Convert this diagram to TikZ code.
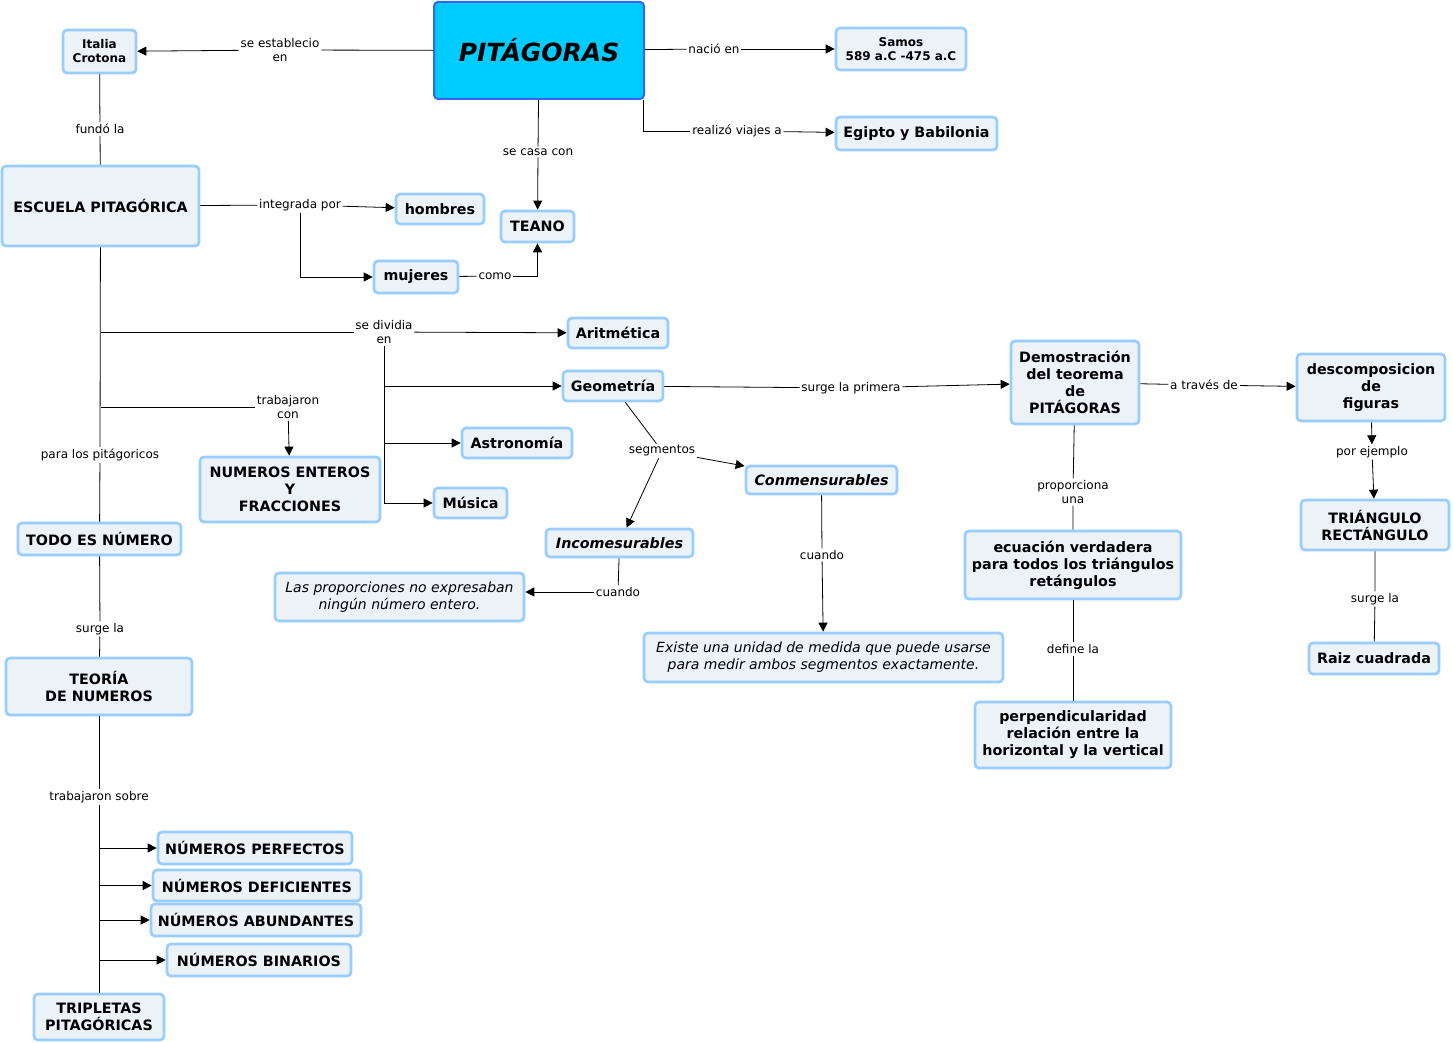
\documentclass[tikz,border=0pt]{standalone}
\usepackage{fontspec}
\setmainfont{DejaVu Sans}
\usetikzlibrary{arrows.meta,positioning}

\definecolor{cmapfill}{HTML}{EBF3F7}
\definecolor{cmapline}{HTML}{99CCFF}
\definecolor{pitfill}{HTML}{00CCFF}
\definecolor{pitline}{HTML}{3366FF}

\tikzset{
    concept/.style={draw=cmapline, fill=cmapfill, line width=2.7pt, rounded corners=4pt,
        align=center, inner sep=2pt, font=\fontsize{14.3}{17}\selectfont\bfseries},
    small/.style={font=\fontsize{12}{14}\selectfont\bfseries},
    slanted/.style={font=\fontsize{14.3}{17}\selectfont\bfseries\itshape},
    sentence/.style={font=\fontsize{14}{17}\selectfont\itshape},
    linklabel/.style={align=center, inner sep=1.5pt, font=\fontsize{12}{14}\selectfont},
    arr/.style={-{Triangle[length=9pt,width=9pt]}},
    link/.style={line width=0.8pt}
}

\begin{document}
\begin{tikzpicture}[x=1pt, y=-1pt, every path/.append style={link}]
                \useasboundingbox (0,0) rectangle (1453,1043);

                \node [concept, fill=pitfill, draw=pitline, line width=2pt, minimum width=210pt, minimum height=97pt,
                    font=\fontsize{25}{28}\selectfont\bfseries\itshape] (pit) at (539,50.5) {PITÁGORAS};
                \node [concept, small, minimum width=73pt, minimum height=43pt] (ita) at (99.5,51.5) {Italia\\Crotona};
                \node [concept, small, minimum width=130pt, minimum height=42pt] (sam) at (901,49) {Samos\\589 a.C -475 a.C};
                \node [concept, minimum width=161pt, minimum height=33pt] (egi) at (916.5,133.5) {Egipto y Babilonia};
                \node [concept, minimum width=197pt, minimum height=80pt] (esc) at (100.5,206) {ESCUELA PITAGÓRICA};
                \node [concept, minimum width=88pt, minimum height=30pt] (hom) at (440,209) {hombres};
                \node [concept, minimum width=73pt, minimum height=31pt] (tea) at (537.5,226.5) {TEANO};
                \node [concept, minimum width=84pt, minimum height=32pt] (muj) at (416,277) {mujeres};
                \node [concept, minimum width=100pt, minimum height=30pt] (ari) at (618,333) {Aritmética};
                \node [concept, minimum width=100pt, minimum height=30pt] (geo) at (613,386) {Geometría};
                \node [concept, minimum width=110pt, minimum height=30pt] (ast) at (517,443) {Astronomía};
                \node [concept, minimum width=73pt, minimum height=30pt] (mus) at (470.5,503) {Música};
                \node [concept, minimum width=180pt, minimum height=65pt] (num) at (290,489.5) {NUMEROS ENTEROS\\Y\\FRACCIONES};
                \node [concept, minimum width=163pt, minimum height=32pt] (todo) at (99.5,539) {TODO ES NÚMERO};
                \node [concept, slanted, minimum width=147pt, minimum height=28pt] (inco) at (619.5,543) {Incomesurables};
                \node [concept, slanted, minimum width=151pt, minimum height=28pt] (conm) at (821.5,480) {Conmensurables};
                \node [concept, sentence, minimum width=249pt, minimum height=48pt] (las) at (399.5,597) {Las proporciones no expresaban\\ningún número entero.};
                \node [concept, sentence, minimum width=359pt, minimum height=49pt] (exi) at (823.5,657.5) {Existe una unidad de medida que puede usarse\\para medir ambos segmentos exactamente.};
                \node [concept, minimum width=128pt, minimum height=83pt] (dem) at (1075,382.5) {Demostración\\del teorema\\de\\PITÁGORAS};
                \node [concept, minimum width=148pt, minimum height=67pt] (desc) at (1371,387.5) {descomposicion\\de\\figuras};
                \node [concept, minimum width=148pt, minimum height=50pt] (tria) at (1375,525) {TRIÁNGULO\\RECTÁNGULO};
                \node [concept, minimum width=130pt, minimum height=31pt] (raiz) at (1374,658.5) {Raiz cuadrada};
                \node [concept, minimum width=216pt, minimum height=68pt] (ecu) at (1073,565) {ecuación verdadera\\para todos los triángulos\\retángulos};
                \node [concept, minimum width=196pt, minimum height=66pt] (perp) at (1073,735) {perpendicularidad\\relación entre la\\horizontal y la vertical};
                \node [concept, minimum width=186pt, minimum height=57pt] (teo) at (99,686.5) {TEORÍA\\DE NUMEROS};
                \node [concept, minimum width=194pt, minimum height=32pt] (perf) at (255,848) {NÚMEROS PERFECTOS};
                \node [concept, minimum width=208pt, minimum height=31pt] (defi) at (257,885.5) {NÚMEROS DEFICIENTES};
                \node [concept, minimum width=210pt, minimum height=32pt] (abun) at (256,920) {NÚMEROS ABUNDANTES};
                \node [concept, minimum width=184pt, minimum height=32pt] (bina) at (259,960) {NÚMEROS BINARIOS};
                \node [concept, minimum width=130pt, minimum height=46pt] (tri) at (99,1017) {TRIPLETAS\\PITAGÓRICAS};

                \node [linklabel] (lEst) at (280,50) {se establecio\\en};
                \node [linklabel] (lNac) at (714,49) {nació en};
                \node [linklabel] (lViaj) at (737,131) {realizó viajes a};
                \node [linklabel] (lCasa) at (538,152) {se casa con};
                \node [linklabel] (lFun) at (100,129) {fundó la};
                \node [linklabel] (lInt) at (300,205) {integrada por};
                \node [linklabel] (lComo) at (495,276) {como};
                \node [linklabel] (lDiv) at (384,332) {se dividia\\en};
                \node [linklabel] (lTrab) at (288,407) {trabajaron\\con};
                \node [linklabel] (lPara) at (100,455) {para los pitágoricos};
                \node [linklabel] (lSurA) at (100,629) {surge la};
                \node [linklabel] (lSobre) at (99,797) {trabajaron sobre};
                \node [linklabel] (lPrim) at (851,388) {surge la primera};
                \node [linklabel] (lSeg) at (662,451) {segmentos};
                \node [linklabel] (lCuanA) at (618,592) {cuando};
                \node [linklabel] (lCuanB) at (822,555) {cuando};
                \node [linklabel] (lTrav) at (1204,385) {a través de};
                \node [linklabel] (lProp) at (1073,492) {proporciona\\una};
                \node [linklabel] (lDef) at (1073,649) {define la};
                \node [linklabel] (lEj) at (1372,452) {por ejemplo};
                \node [linklabel] (lSurB) at (1375,599) {surge la};

                \draw (pit) -- (lEst);
                \draw [arr] (lEst) -- (ita);
                \draw (pit) -- (lNac);
                \draw [arr] (lNac) -- (sam);
                \draw ([xshift=-2pt]pit.south east) |- (lViaj);
                \draw [arr] (lViaj) -- (egi);
                \draw (pit) -- (lCasa);
                \draw [arr] (lCasa) -- (tea);
                \draw (ita) -- (lFun) -- (esc);
                \draw (esc) -- (lInt);
                \draw [arr] (lInt) -- (hom);
                \draw [arr] (lInt.south) |- (muj);
                \draw (muj) -- (lComo);
                \draw [arr] (lComo.east) -| (tea.south);

                \draw (esc) -- (lPara) -- (todo);
                \draw (esc.south |- lDiv) -- (lDiv);
                \draw [arr] (lDiv) -- (ari);
                \draw (lDiv.south) -- (lDiv.south |- mus);
                \draw [arr] (lDiv.south |- geo) -- (geo);
                \draw [arr] (lDiv.south |- ast) -- (ast);
                \draw [arr] (lDiv.south |- mus) -- (mus);
                \draw (esc.south |- lTrab) -- (lTrab);
                \draw [arr] (lTrab) -- (num);
                \draw (todo) -- (lSurA) -- (teo);
                \draw (teo) -- (lSobre) -- (tri);
                \foreach \n in {perf,defi,abun,bina}
                    \draw [arr] (lSobre.south |- \n) -- (\n);

                \draw (geo) -- (lPrim);
                \draw [arr] (lPrim) -- (dem);
                \draw (geo) -- (lSeg);
                \draw [arr] (lSeg) -- (inco);
                \draw [arr] (lSeg) -- (conm);
                \draw (inco) -- (lCuanA);
                \draw [arr] (lCuanA.west) -- (lCuanA.west -| las.east);
                \draw (conm) -- (lCuanB);
                \draw [arr] (lCuanB) -- (exi);

                \draw (dem) -- (lTrav);
                \draw [arr] (lTrav) -- (desc);
                \draw (dem) -- (lProp) -- (ecu);
                \draw (ecu) -- (lDef) -- (perp);
                \draw [arr] (desc) -- (lEj);
                \draw [arr] (lEj) -- (tria);
                \draw (tria) -- (lSurB) -- (raiz);
\end{tikzpicture}
\end{document}
